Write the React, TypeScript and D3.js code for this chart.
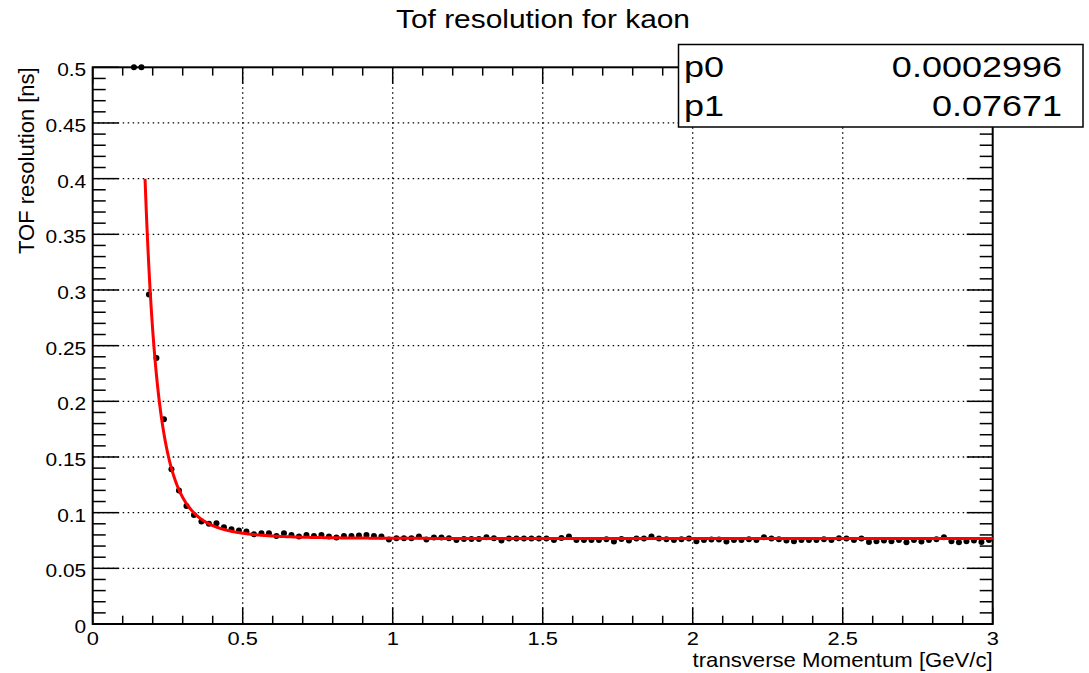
import React from 'react';
import * as d3 from 'd3';

// histogram binning (GeV/c)
const firstBinCenter = 0.1375;
const binWidth = 0.025;

// TOF resolution per bin [ns]
const resolution = [
  0.5, 0.5, 0.296, 0.239, 0.184, 0.139, 0.120, 0.106, 0.098, 0.092,
  0.090, 0.0905, 0.087, 0.085, 0.084, 0.083, 0.0806, 0.0815, 0.0815, 0.079,
  0.0815, 0.080, 0.0785, 0.080, 0.079, 0.080, 0.0785, 0.0778, 0.079, 0.079,
  0.0795, 0.080, 0.079, 0.0785, 0.076, 0.077, 0.077, 0.077, 0.0785, 0.0758,
  0.0776, 0.0776, 0.0770, 0.0755, 0.0764, 0.0764, 0.0764, 0.0779, 0.0770, 0.0749,
  0.0767, 0.0767, 0.0767, 0.0767, 0.0767, 0.0767, 0.0755, 0.0773, 0.0785, 0.0755,
  0.0755, 0.0755, 0.0755, 0.0761, 0.0740, 0.0764, 0.0749, 0.0767, 0.0767, 0.0785,
  0.0767, 0.0761, 0.0755, 0.0761, 0.0767, 0.0743, 0.0755, 0.0758, 0.0758, 0.0740,
  0.0755, 0.0755, 0.0761, 0.0755,
  0.0779, 0.0767, 0.0761, 0.0749, 0.0743, 0.0755, 0.0755, 0.0755, 0.0761, 0.0755,
  0.0770, 0.0767, 0.0755, 0.0767, 0.0737, 0.0743, 0.0749, 0.0743, 0.0755, 0.0734,
  0.0755, 0.0740, 0.0755, 0.0761, 0.0779, 0.0743, 0.0734, 0.0743, 0.0749, 0.0737,
  0.0755,
];

// fit parameters: p0 / pt^4 + p1
const fitParams = [
  { name: 'p0', value: 0.0002996, label: '0.0002996' },
  { name: 'p1', value: 0.07671, label: '0.07671' },
];
const fitRange = [0.1745, 3];

const xTickLabels = ['0', '0.5', '1', '1.5', '2', '2.5', '3'];
const yTickLabels = ['0', '0.05', '0.1', '0.15', '0.2', '0.25', '0.3', '0.35', '0.4', '0.45', '0.5'];

const W = 1089;
const H = 673;
const margin = { left: 92.7, right: 96.3, top: 67.3, bottom: 49 };
const FONT = '"Liberation Sans", Arial, Helvetica, sans-serif';

const App = () => {
  const x = d3.scaleLinear().domain([0, 3]).range([margin.left, W - margin.right]);
  const y = d3.scaleLinear().domain([0, 0.5]).range([H - margin.bottom, margin.top]);
  const [x0, x1] = x.range();
  const [yb, yt] = y.range();

  const points = resolution.map((v, i) => ({ pt: firstBinCenter + i * binWidth, v }));

  const p0 = fitParams[0].value;
  const p1 = fitParams[1].value;
  const fit = (pt: number) => p0 / Math.pow(pt, 4) + p1;
  const fitXs = d3.range(fitRange[0], fitRange[1], 0.002).concat([fitRange[1]]);
  const fitLine = d3.line<number>()
    .x(d => x(d))
    .y(d => y(fit(d)));

  const xMajor = xTickLabels.map(Number);
  const yMajor = yTickLabels.map(Number);
  const xMinor = d3.range(0, 31).map(i => i / 10);
  const yMinor = d3.range(0, 51).map(i => i / 100);

  const xGrid = xMajor.filter(v => v > 0 && v < 3);
  const yGrid = yMajor.filter(v => v > 0 && v < 0.5);

  return (
    <svg width={W} height={H} style={{ position: 'absolute', left: 0, top: 0, background: '#fff' }}>
      <rect width={W} height={H} fill="#fff" />

      {/* grid */}
      <g stroke="#000" strokeWidth={1.3} strokeDasharray="1.5,3.5">
        {xGrid.map(v => (
          <line key={'gx' + v} x1={x(v)} x2={x(v)} y1={yt} y2={yb} />
        ))}
        {yGrid.map(v => (
          <line key={'gy' + v} x1={x0} x2={x1} y1={y(v)} y2={y(v)} />
        ))}
      </g>

      {/* ticks */}
      <g stroke="#000" strokeWidth={1.5}>
        {xMinor.map(v => {
          const major = Math.abs(v * 2 - Math.round(v * 2)) < 1e-6;
          const len = major ? 16.5 : 8.3;
          return (
            <g key={'tx' + v}>
              <line x1={x(v)} x2={x(v)} y1={yb} y2={yb - len} />
              <line x1={x(v)} x2={x(v)} y1={yt} y2={yt + len} />
            </g>
          );
        })}
        {yMinor.map(v => {
          const major = Math.abs(v * 20 - Math.round(v * 20)) < 1e-6;
          const len = major ? 26 : 13;
          return (
            <g key={'ty' + v}>
              <line x1={x0} x2={x0 + len} y1={y(v)} y2={y(v)} />
              <line x1={x1} x2={x1 - len} y1={y(v)} y2={y(v)} />
            </g>
          );
        })}
      </g>

      {/* frame */}
      <rect x={x0} y={yt} width={x1 - x0} height={yb - yt} fill="none" stroke="#000" strokeWidth={2} />

      {/* data points */}
      <g fill="#000">
        {points.map(d => (
          <circle key={d.pt} cx={x(d.pt)} cy={y(d.v)} r={3} />
        ))}
      </g>

      {/* fit */}
      <path d={fitLine(fitXs) || ''} fill="none" stroke="#ff0000" strokeWidth={3} />

      {/* tick labels */}
      <g fontFamily={FONT} fontSize={19} fill="#000">
        {xTickLabels.map(t => (
          <text key={'lx' + t} transform={`translate(${x(+t)},${yb + 21}) scale(1.15,1)`} textAnchor="middle">{t}</text>
        ))}
        {yTickLabels.map(t => (
          <text key={'ly' + t} transform={`translate(${x0 - 6.5},${y(+t) + 9}) scale(1.1,1)`} textAnchor="end">{t}</text>
        ))}
      </g>

      {/* axis titles */}
      <text
        fontFamily={FONT}
        fontSize={20.5}
        textAnchor="end"
        transform={`translate(${x1},${yb + 43}) scale(1.08,1)`}
      >
        transverse Momentum [GeV/c]
      </text>
      <text
        fontFamily={FONT}
        fontSize={22}
        textAnchor="end"
        transform={`translate(34,${yt}) rotate(-90)`}
      >
        TOF resolution [ns]
      </text>

      {/* title */}
      <text
        fontFamily={FONT}
        fontSize={26}
        textAnchor="middle"
        transform={`translate(543,28) scale(1.15,1)`}
      >
        Tof resolution for kaon
      </text>

      {/* stats box */}
      <rect x={678.5} y={44.5} width={404.5} height={82.5} fill="#fff" stroke="#000" strokeWidth={1.5} />
      {fitParams.map((p, i) => (
        <g key={p.name} fontFamily={FONT} fontSize={30}>
          <text transform={`translate(684,${77 + i * 38.5}) scale(1.2,1)`}>{p.name}</text>
          <text transform={`translate(1062,${77 + i * 38.5}) scale(1.2,1)`} textAnchor="end">{p.label}</text>
        </g>
      ))}
    </svg>
  );
};

export default App;
